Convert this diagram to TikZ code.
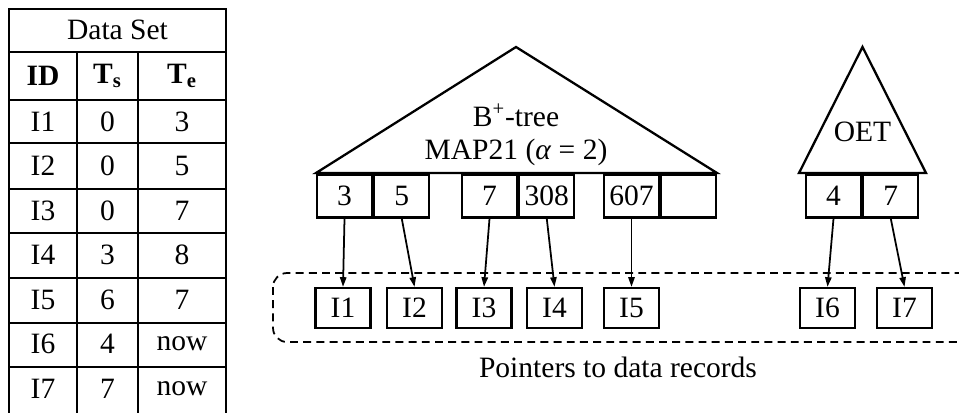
\documentclass[tikz,border=0pt]{standalone}
\usepackage{fontspec}
\setmainfont{Liberation Serif}
\usetikzlibrary{positioning, arrows.meta}

\begin{document}
\begin{tikzpicture}[x=0.02cm, y=-0.02cm,
  every node/.style={font=\fontsize{16.8}{20}\selectfont},
  keybox/.style={draw, line width=1.3pt, minimum width=1.1cm, minimum height=0.86cm, inner sep=0pt},
  recbox/.style={draw, line width=1.3pt, minimum width=1.1cm, minimum height=0.8cm, inner sep=0pt},
  ptr/.style={-{Triangle[length=5.5pt, width=3.6pt]}, line width=1pt},
  tree/.style={line width=1.3pt, line join=miter},
  grid/.style={line width=1.3pt},
  frame/.style={dashed, dash pattern=on 4.5pt off 3pt, line width=1pt, rounded corners=8pt}]
  \useasboundingbox (0,0) rectangle (959,412);
  % Data set table
  \draw[grid] (9,418) -- (9,9) -- (226,9) -- (226,418);
  \foreach \y in {52,100,143,189,233,278,323,367} \draw[grid] (9,\y) -- (226,\y);
  \foreach \x in {77,138} \draw[grid] (\x,52) -- (\x,418);
  \node (title) at (117.5,30) {Data Set};
  \node (hid) at (43,76) {\textbf{ID}};
  \node (hts) at (107.5,76) {\textbf{T\textsubscript{s}}};
  \node (hte) at (182,76) {\textbf{T\textsubscript{e}}};
  \foreach \id/\ts/\te [count=\i] in {I1/0/3, I2/0/5, I3/0/7, I4/3/8, I5/6/7, I6/4/now, I7/7/now} {
    \node (id\i) at (43,77+44.5*\i) {\id};
    \node (ts\i) at (107.5,77+44.5*\i) {\ts};
    \node (te\i) at (182,77+44.5*\i) {\te};
  }
  % B+-tree
  \draw[tree] (316,173) -- (516,47) -- (717,173) -- cycle;
  \node (bname) at (516,115) {B\textsuperscript{+}-tree};
  \node (bmap) at (516,152) {MAP21 (\textit{α} = 2)};
  \node[keybox] (k3) at (344.5,196) {3};
  \node[keybox, right=0pt of k3] (k5) {5};
  \node[keybox] (k7) at (489.5,196) {7};
  \node[keybox, right=0pt of k7] (k308) {308};
  \node[keybox] (k607) at (631.5,196) {607};
  \node[keybox, right=0pt of k607] (kfree) {};
  % OET
  \draw[tree] (799,173) -- (862.5,47) -- (926,173) -- cycle;
  \node (oname) at (862.5,132) {OET};
  \node[keybox] (k4) at (833.5,196) {4};
  \node[keybox, right=0pt of k4] (k7b) {7};
  % Data records
  \draw[frame] (273,273) rectangle (980,342);
  \node[recbox] (r1) at (343,308) {I1};
  \node[recbox] (r2) at (414.5,308) {I2};
  \node[recbox] (r3) at (484,308) {I3};
  \node[recbox] (r4) at (554.5,308) {I4};
  \node[recbox] (r5) at (631.5,308) {I5};
  \node[recbox] (r6) at (827.5,308) {I6};
  \node[recbox] (r7) at (904.5,308) {I7};
  \node (caption) at (618,367) {Pointers to data records};
  % Pointers
  \draw[ptr] (k3.south) -- (r1.north);
  \draw[ptr] (k5.south) -- (r2.north);
  \draw[ptr] (k7.south) -- (r3.north);
  \draw[ptr] (k308.south) -- (r4.north);
  \draw[ptr] (k607.south) -- (r5.north);
  \draw[ptr] (k4.south) -- (r6.north);
  \draw[ptr] (k7b.south) -- (r7.north);
\end{tikzpicture}
\end{document}
